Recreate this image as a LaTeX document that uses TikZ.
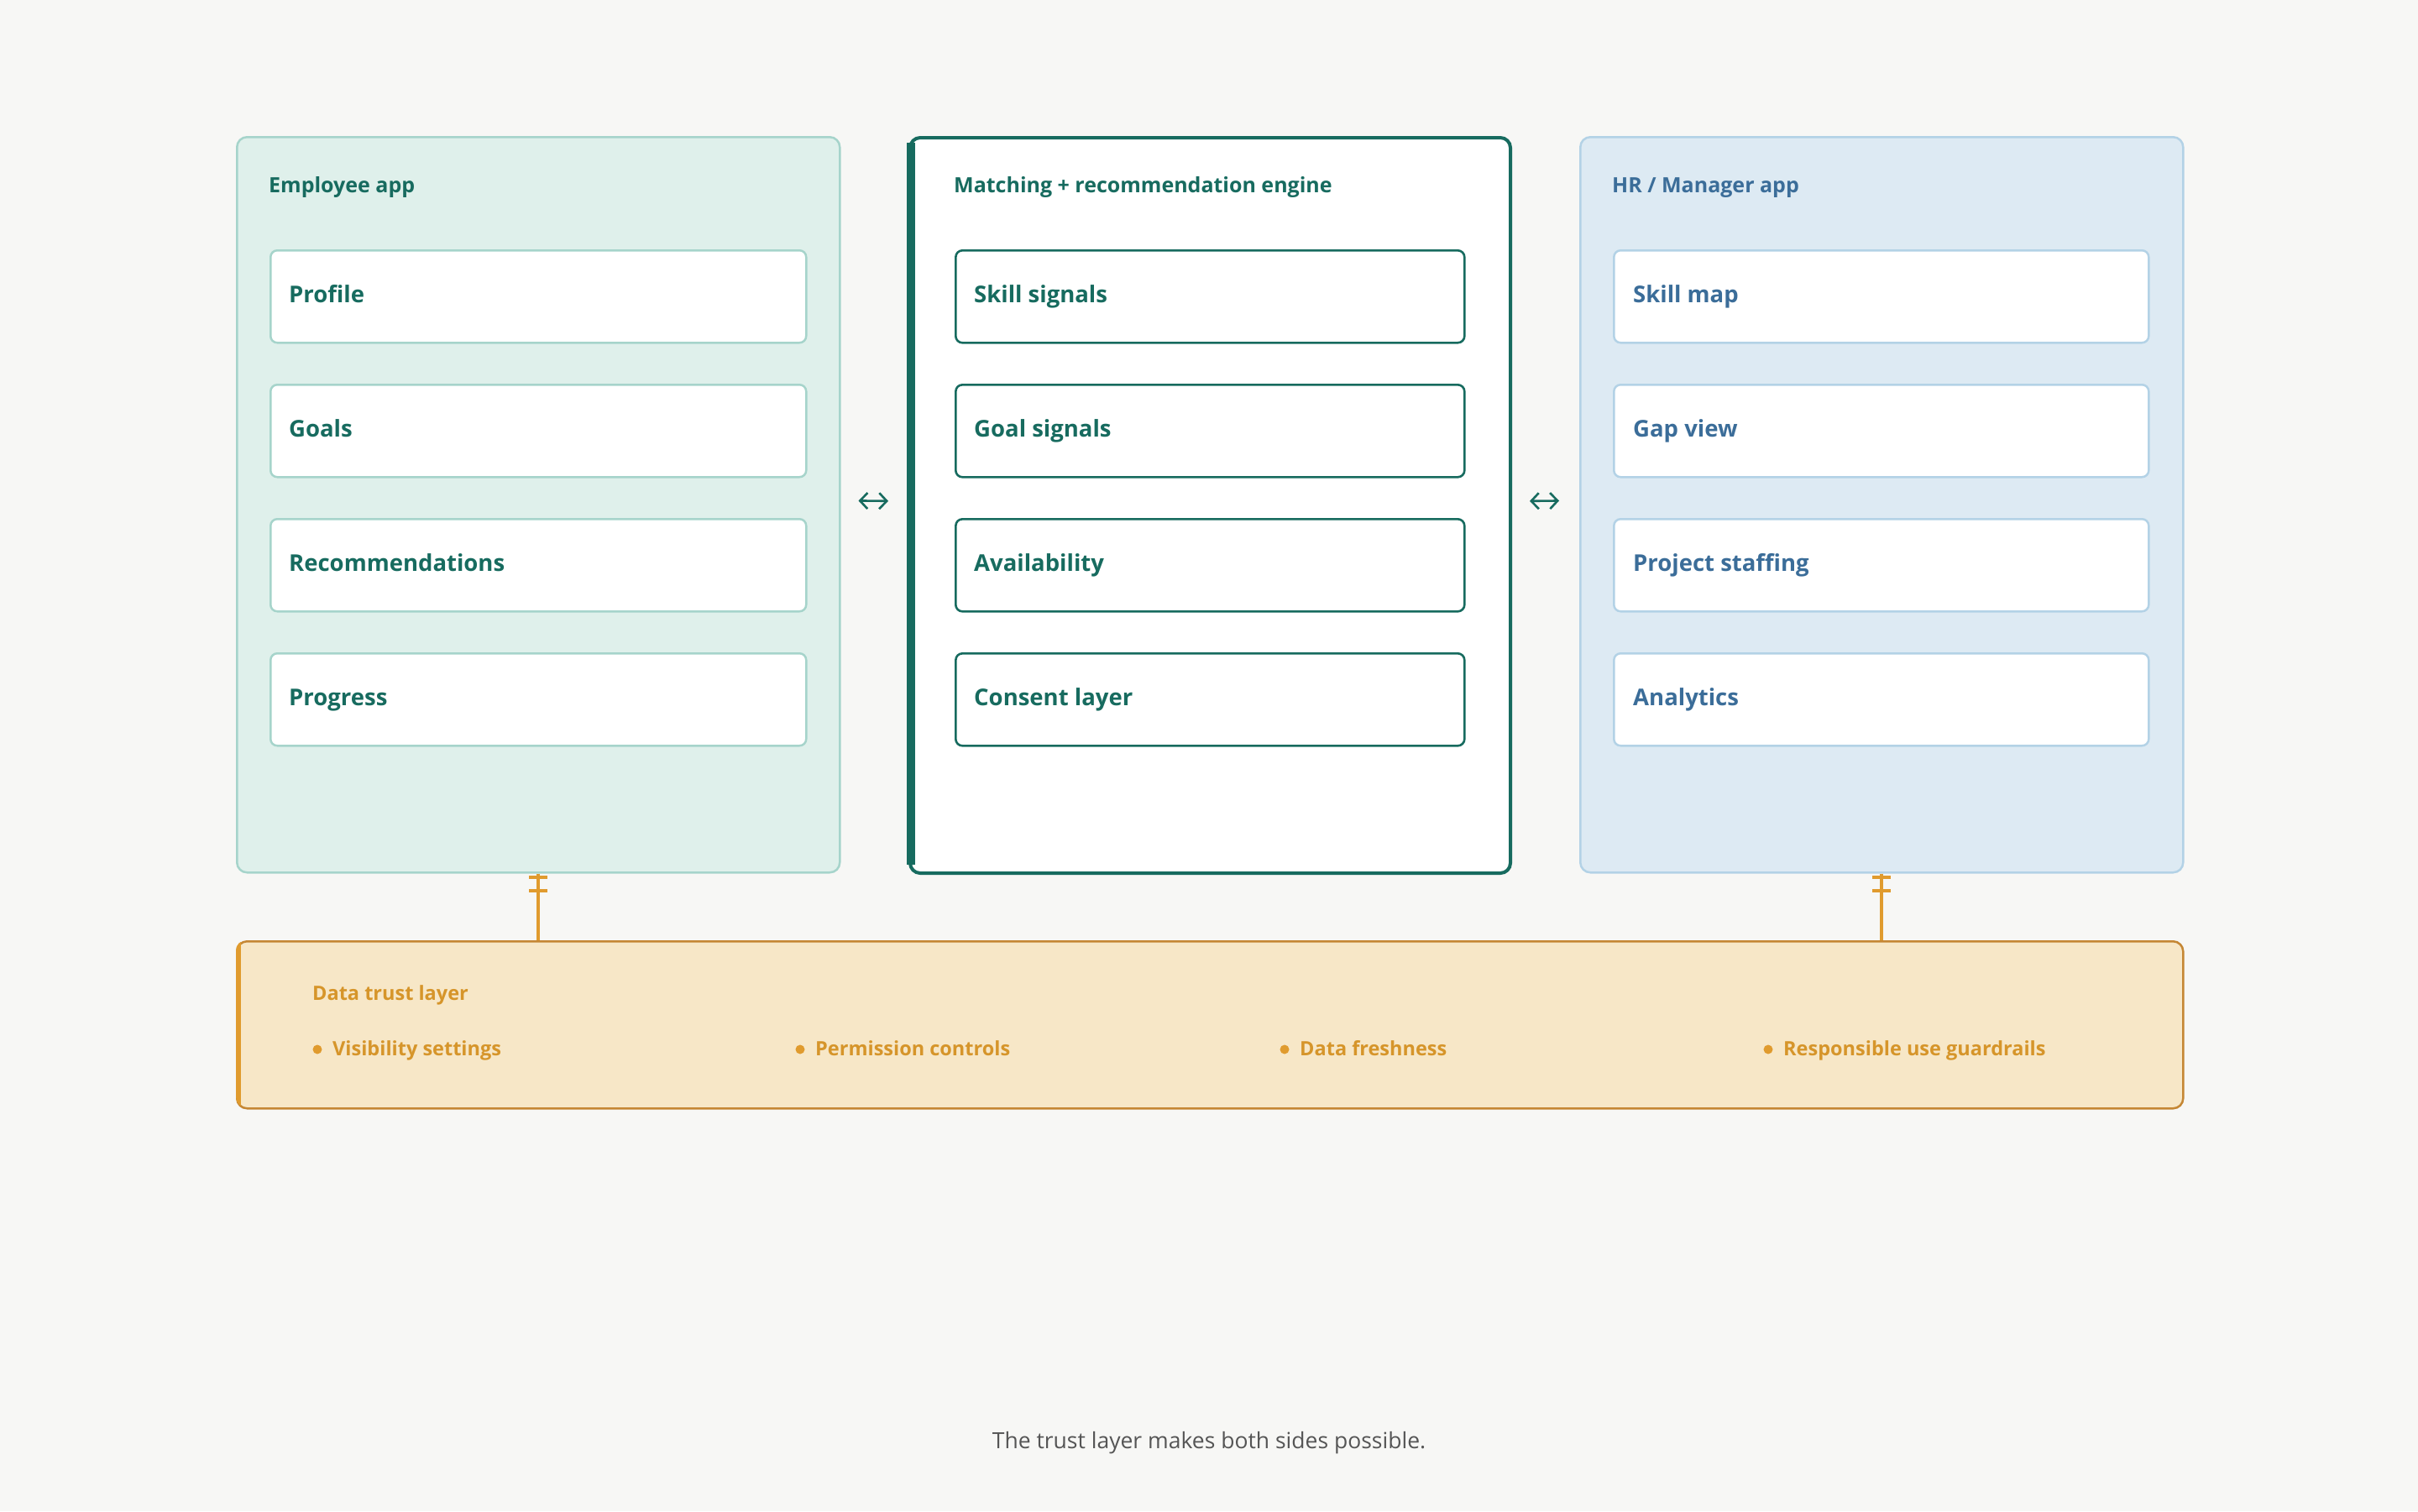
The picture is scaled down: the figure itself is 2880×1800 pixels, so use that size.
\documentclass[tikz,border=0pt]{standalone}
\usepackage{fontspec}
\setmainfont{Open Sans}
\usetikzlibrary{arrows.meta,calc}
\definecolor{bgc}{HTML}{F7F7F5}
\definecolor{empfill}{HTML}{DFF0EB}
\definecolor{empline}{HTML}{A6D4CB}
\definecolor{dgreen}{HTML}{176B5F}
\definecolor{hrfill}{HTML}{DDEAF3}
\definecolor{hrline}{HTML}{B3D2E6}
\definecolor{hrtext}{HTML}{3B6D99}
\definecolor{trustfill}{HTML}{F7E7C7}
\definecolor{trustline}{HTML}{C58734}
\definecolor{trustacc}{HTML}{E09B2E}
\definecolor{trusttext}{HTML}{D6952A}
\definecolor{capc}{HTML}{555555}
\tikzset{
  panel/.style={rectangle, rounded corners=12pt, anchor=north west, minimum width=718pt, minimum height=876pt, inner sep=0pt},
  itembox/.style={rectangle, rounded corners=8pt, fill=white, anchor=north west, minimum height=110pt, inner sep=0pt},
  ptitle/.style={anchor=base west, inner sep=0pt, font=\fontsize{25}{30}\selectfont\bfseries},
  itemtxt/.style={anchor=base west, inner sep=0pt, font=\fontsize{27.5}{34}\selectfont\bfseries},
  biarrow/.style={draw=dgreen, line width=2.6pt, {Straight Barb[length=9pt,width=19pt]}-{Straight Barb[length=9pt,width=19pt]}, shorten <=21pt, shorten >=24pt},
  conn/.style={draw=trustacc, line width=4pt},
  tick/.style={draw=trustacc, line width=4pt},
  trusttxt/.style={anchor=base west, inner sep=0pt, text=trusttext, font=\fontsize{23.5}{29}\selectfont\bfseries},
  bullet/.style={circle, fill=trustacc, inner sep=0pt, minimum size=11pt}
}
\begin{document}
\begin{tikzpicture}[x=1pt, y=-1pt]
\fill[bgc] (0,0) rectangle (2880,1800);
\useasboundingbox (0,0) rectangle (2880,1800);

% panels
\node[panel, fill=empfill, draw=empline, line width=2.5pt] (emp) at (281,162) {};
\node[panel, fill=white, draw=dgreen, line width=4pt, minimum width=715pt] (cen) at (1082,162) {};
\fill[dgreen] (1080,170) rectangle (1090,1030);
\node[panel, fill=hrfill, draw=hrline, line width=2.5pt] (hr) at (1881,162) {};

% titles
\node[ptitle, text=dgreen] (empT) at (320,229) {Employee app};
\node[ptitle, text=dgreen] (cenT) at (1136,229) {Matching + recommendation engine};
\node[ptitle, text=hrtext] (hrT) at (1920,229) {HR / Manager app};

% employee items
\foreach \t [count=\i] in {Profile,Goals,Recommendations,Progress}{
  \node[itembox, draw=empline, line width=2.5pt, minimum width=638pt] (e\i) at (321,{297+160*(\i-1)}) {};
  \node[itemtxt, text=dgreen] (et\i) at (344,{360+160*(\i-1)}) {\t};
}
% engine items
\foreach \t [count=\i] in {Skill signals,Goal signals,Availability,Consent layer}{
  \node[itembox, draw=dgreen, line width=2.6pt, minimum width=606pt] (c\i) at (1137,{297+160*(\i-1)}) {};
  \node[itemtxt, text=dgreen] (ct\i) at (1160,{360+160*(\i-1)}) {\t};
}
% hr items
\foreach \t [count=\i] in {Skill map,Gap view,Project staffing,Analytics}{
  \node[itembox, draw=hrline, line width=2.5pt, minimum width=637pt] (h\i) at (1921,{297+160*(\i-1)}) {};
  \node[itemtxt, text=hrtext] (ht\i) at (1945,{360+160*(\i-1)}) {\t};
}

% bidirectional arrows
\draw[biarrow] ([yshift=5pt]emp.east) -- ([yshift=5pt]cen.west);
\draw[biarrow] ([yshift=5pt]cen.east) -- ([yshift=5pt]hr.west);

% trust layer
\node[rectangle, rounded corners=12pt, anchor=north west, minimum width=2318pt, minimum height=199pt, inner sep=0pt, fill=trustfill, draw=trustline, line width=2.5pt] (trust) at (281,1120) {};
\begin{scope}
\clip[rounded corners=12pt] (281,1120) rectangle (2599,1319);
\fill[trustacc] (280,1118) rectangle (287,1321);
\end{scope}
\node[trusttxt, font=\fontsize{23.5}{29}\selectfont\bfseries] (trT) at (372,1191) {Data trust layer};
\foreach \t/\x [count=\i] in {Visibility settings/378,Permission controls/953,Data freshness/1530,Responsible use guardrails/2106}{
  \node[bullet] (b\i) at (\x,1250) {};
  \node[trusttxt] (bt\i) at (\x+18,1257) {\t};
}

% connectors
\draw[conn] (emp.south) -- (emp.south |- trust.north);
\draw[conn] (hr.south) -- (hr.south |- trust.north);
\foreach \p in {emp,hr}{
  \draw[tick] ($(\p.south)+(-11,4)$) -- ++(22,0);
  \draw[tick] ($(\p.south)+(-11,20)$) -- ++(22,0);
}

% caption
\node[anchor=base, inner sep=0pt, text=capc, font=\fontsize{26.5}{32}\selectfont] (cap) at (1440,1725) {The trust layer makes both sides possible.};
\end{tikzpicture}
\end{document}
